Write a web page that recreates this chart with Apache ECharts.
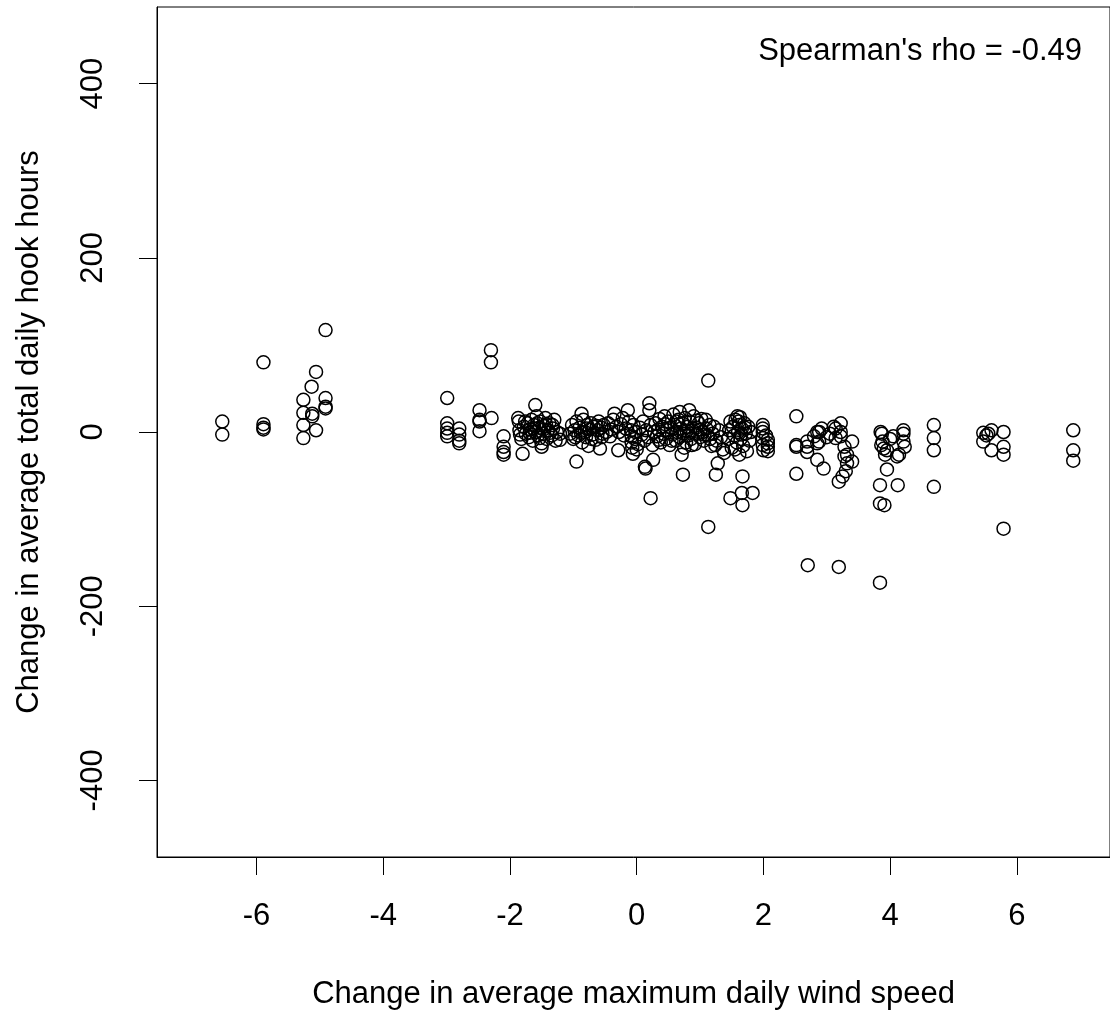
<!DOCTYPE html>
<html>
<head>
<meta charset="utf-8">
<script src="https://cdn.jsdelivr.net/npm/echarts@6/dist/echarts.min.js"></script>
<style>
html,body{margin:0;padding:0;background:#fff;}
#chart{width:1110px;height:1016px;}
</style>
</head>
<body>
<div id="chart"></div>
<script>
// x = change in average maximum daily wind speed, y = change in average total daily hook hours
const farLeftGroup = [
  [-6.54,12],[-6.54,-3],
  [-5.89,80],[-5.89,9],[-5.89,5],[-5.89,3],
  [-5.26,37],[-5.26,22],[-5.26,8],[-5.26,-7],
  [-5.13,52],[-5.12,21],[-5.12,18],
  [-5.06,69],[-5.06,2],
  [-4.91,117],[-4.91,39],[-4.91,29],[-4.91,27]
];
const midLeftGroup = [
  [-2.99,39],[-2.99,10],[-2.99,4],[-2.99,-1],[-2.99,-5],
  [-2.80,4],[-2.80,-3],[-2.80,-10],[-2.80,-13],
  [-2.48,25],[-2.48,14],[-2.48,12],[-2.48,1],
  [-2.30,94],[-2.30,80],[-2.29,16],
  [-2.10,-5],[-2.10,-17],[-2.10,-23],[-2.10,-26]
];
const clusterNeg2 = [
  [-1.87,16],[-1.86,12],[-1.85,2],[-1.84,-3],[-1.82,-8],[-1.80,-25],[-1.78,6],
  [-1.75,-2],[-1.72,10],[-1.70,-6],[-1.68,3],[-1.66,14],[-1.64,-10],[-1.62,8],
  [-1.60,31],[-1.60,0],[-1.58,18],[-1.56,-4],[-1.54,5],[-1.52,12],[-1.50,-13],
  [-1.50,-17],[-1.48,-2],[-1.46,7],[-1.44,16],[-1.42,-8],[-1.40,2],[-1.38,10],
  [-1.34,-4],[-1.32,4],[-1.30,14],[-1.28,-10],[-1.26,0],[-1.21,-2],[-1.21,-9],
  [-1.76,12],[-1.69,-1],[-1.63,4],[-1.57,10],[-1.53,-7],[-1.47,3],[-1.43,9],
  [-1.37,-1],[-1.33,8]
];
const clusterNeg1 = [
  [-1.05,-2],[-1.02,8],[-1.00,-8],[-0.98,2],[-0.95,-34],[-0.95,12],[-0.92,-4],
  [-0.90,5],[-0.87,21],[-0.86,-12],[-0.84,14],[-0.82,0],[-0.80,-6],[-0.78,8],
  [-0.76,-16],[-0.74,3],[-0.72,10],[-0.70,-3],[-0.68,6],[-0.65,-9],[-0.62,2],
  [-0.60,12],[-0.58,-19],[-0.56,5],[-0.54,-2],[-0.52,8],[-0.48,0],[-0.45,10],
  [-0.42,-5],[-0.40,3],[-0.37,14],[-0.35,21],[-0.32,6],[-0.29,-21],[-0.28,0],
  [-0.25,9],[-0.22,16],[-0.20,-4],[-0.17,4],[-0.14,25],[-0.12,12],
  [-0.09,2],[-0.08,-5],[-0.08,-12],[-0.07,-18],[-0.06,-25],[-0.05,8],
  [-0.03,-8],[-0.02,0],[0.00,-20],[0.02,-14],
  [-0.97,-6],[-0.88,-1],[-0.79,4],[-0.71,-8],[-0.63,7],[-0.55,-6]
];
const clusterZeroToTwo = [
  [0.05,5],[0.08,-3],[0.10,12],[0.12,-10],[0.13,-40],[0.14,-42],[0.15,2],
  [0.18,-6],[0.20,33],[0.20,25],[0.22,-76],[0.22,8],[0.25,-15],[0.26,-32],[0.28,0],
  [0.30,10],[0.32,-5],[0.34,3],[0.36,15],[0.38,-12],[0.40,6],[0.42,-2],[0.44,18],
  [0.46,-8],[0.48,2],[0.50,12],[0.52,-15],[0.54,5],[0.56,-3],[0.58,20],[0.60,8],
  [0.62,-10],[0.64,0],[0.66,14],[0.68,23],[0.68,-6],[0.70,4],[0.71,-26],[0.72,10],
  [0.73,-49],[0.74,-2],[0.76,16],[0.78,-12],[0.80,6],[0.82,-4],[0.83,25],[0.84,12],
  [0.86,-8],[0.88,2],[0.90,18],[0.92,-14],[0.94,5],[0.96,-2],[0.98,10],[1.00,-6],
  [1.02,15],[1.04,0],[1.06,-10],[1.09,14],[1.10,4],[1.12,-4],[1.13,59],[1.13,-109],
  [1.15,8],[1.18,-16],[1.20,-2],[1.22,6],[1.25,-49],[1.26,-10],[1.28,-36],[1.30,2],
  [1.33,-6],[1.36,-20],[1.38,-24],
  [0.35,-9],[0.45,9],[0.55,-10],[0.63,12],[0.75,-18],[0.79,1],[0.87,-15],
  [0.95,13],[1.01,3],[1.07,-3],[1.16,-8],[1.24,-15],
  [1.44,-8],[1.46,2],[1.48,12],[1.48,-76],[1.50,-18],[1.52,6],[1.54,-4],[1.56,14],
  [1.58,-12],[1.59,18],[1.60,0],[1.62,8],[1.62,-26],[1.63,17],[1.64,-8],[1.66,-70],
  [1.66,4],[1.67,-51],[1.67,-84],[1.68,-16],[1.70,10],[1.72,-2],[1.74,-22],
  [1.76,6],[1.78,-10],[1.80,0],[1.83,-70],
  [1.55,-20],[1.61,12],[1.65,-3],[1.71,5],
  [1.99,8],[1.99,4],[1.99,0],[1.99,-7],[1.99,-15],[2.00,-21],[2.04,-4],
  [2.07,-9],[2.07,-13],[2.07,-17],[2.07,-22]
];
const rightGroup = [
  [2.52,18],[2.52,-15],[2.52,-17],[2.52,-48],
  [2.69,-11],[2.69,-17],[2.69,-23],[2.70,-153],
  [2.80,-5],[2.85,0],[2.85,-13],[2.85,-32],[2.88,0],[2.88,-11],[2.92,4],[2.95,-42],
  [3.00,-6],[3.05,-2],
  [3.11,6],[3.14,4],[3.14,-7],[3.19,-57],[3.19,-155],[3.22,10],[3.22,0],[3.22,-5],
  [3.25,-51],[3.28,-17],[3.28,-28],[3.30,-45],[3.32,-26],[3.32,-36],[3.40,-11],[3.40,-34],
  [3.84,-61],[3.84,-82],[3.84,-173],[3.85,0],[3.86,-15],[3.87,-2],[3.88,-11],
  [3.90,-19],[3.91,-84],[3.92,-26],[3.95,-43],[3.95,-21],[4.00,-8],[4.05,-5],
  [4.11,-28],[4.12,-61],[4.14,-26],[4.21,2],[4.21,-2],[4.21,-11],[4.23,-17]
];
const farRightGroup = [
  [4.69,8],[4.69,-7],[4.69,-21],[4.69,-63],
  [5.47,-1],[5.47,-11],[5.52,-4],[5.55,-2],[5.60,2],[5.60,-21],
  [5.79,0],[5.79,-17],[5.79,-26],[5.79,-111],
  [6.89,2],[6.89,-21],[6.89,-33]
];
const xTicks = [-6,-4,-2,0,2,4,6];
const yTicks = [-400,-200,0,200,400];
const xTitle = 'Change in average maximum daily wind speed';
const yTitle = 'Change in average total daily hook hours';
const annotation = "Spearman's rho = -0.49";

const points = [].concat(farLeftGroup, midLeftGroup, clusterNeg2, clusterNeg1,
                         clusterZeroToTwo, rightGroup, farRightGroup);
const FONT = "'Liberation Sans', Arial, sans-serif";
const chart = echarts.init(document.getElementById('chart'), null, {renderer:'canvas'});
chart.setOption({
  animation:false,
  backgroundColor:'#fff',
  grid:{left:157, right:-4, top:7, bottom:159, show:true, borderColor:'#000', borderWidth:1, backgroundColor:'transparent'},
  xAxis:{
    type:'value', min:-7.57, max:7.47,
    splitLine:{show:false},
    axisLine:{show:true, onZero:false, lineStyle:{color:'#000', width:1}},
    axisTick:{show:true, inside:false, length:18, lineStyle:{color:'#000', width:1}, customValues:xTicks},
    axisLabel:{color:'#000', fontSize:31, fontFamily:FONT, margin:44, customValues:xTicks},
    name:xTitle, nameLocation:'middle', nameGap:122,
    nameTextStyle:{color:'#000', fontSize:31, fontFamily:FONT}
  },
  yAxis:{
    type:'value', min:-488, max:488,
    splitLine:{show:false},
    axisLine:{show:true, onZero:false, lineStyle:{color:'#000', width:1}},
    axisTick:{show:true, inside:false, length:18, lineStyle:{color:'#000', width:1}, customValues:yTicks},
    axisLabel:{color:'#000', fontSize:31, fontFamily:FONT, margin:48, rotate:90, customValues:yTicks},
    name:yTitle, nameLocation:'middle', nameGap:112, nameRotate:90,
    nameTextStyle:{color:'#000', fontSize:31, fontFamily:FONT}
  },
  graphic:[{
    type:'text', right:28, top:36,
    style:{text:annotation, fill:'#000', font:"31px 'Liberation Sans', Arial, sans-serif", textAlign:'right'}
  }],
  series:[{
    type:'scatter', data:points, symbol:'circle', symbolSize:13,
    itemStyle:{color:'rgba(0,0,0,0)', borderColor:'#000', borderWidth:1.5, opacity:1},
    emphasis:{disabled:true}, silent:true
  }]
});
</script>
</body>
</html>
